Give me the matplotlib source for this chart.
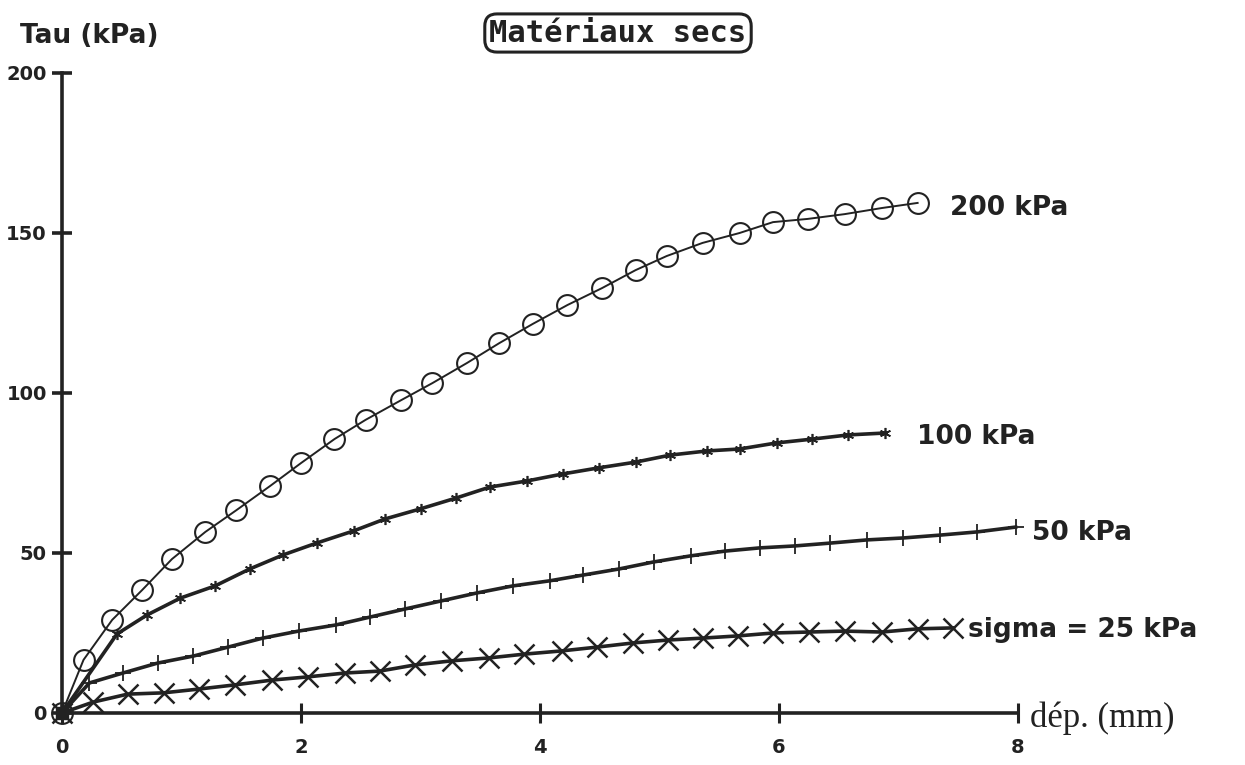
import matplotlib
matplotlib.use('Agg')
import matplotlib.pyplot as plt

dep_200 = [0, 0.18, 0.42, 0.67, 0.92, 1.20, 1.46, 1.74, 2.00, 2.28, 2.54, 2.84, 3.10,
           3.39, 3.66, 3.94, 4.23, 4.52, 4.80, 5.06, 5.36, 5.67, 5.95, 6.24, 6.55, 6.86, 7.16]
tau_200 = [0, 16.6, 29.1, 38.4, 48.1, 56.6, 63.4, 70.9, 78.1, 85.6, 91.6, 97.8, 103.1,
           109.4, 115.6, 121.6, 127.5, 132.8, 138.4, 142.8, 146.9, 150.0, 153.4, 154.4, 155.9, 157.8, 159.4]

dep_100 = [0, 0.46, 0.71, 0.99, 1.28, 1.57, 1.85, 2.13, 2.44, 2.70, 3.00, 3.30, 3.58,
           3.89, 4.19, 4.49, 4.80, 5.09, 5.40, 5.67, 5.98, 6.28, 6.58, 6.89]
tau_100 = [0, 24.7, 30.6, 35.9, 39.7, 45.0, 49.4, 53.1, 56.9, 60.6, 63.8, 67.2, 70.6,
           72.5, 74.7, 76.6, 78.4, 80.6, 81.9, 82.5, 84.4, 85.6, 86.9, 87.5]

dep_50 = [0, 0.23, 0.51, 0.80, 1.10, 1.39, 1.68, 1.98, 2.29, 2.58, 2.87, 3.17, 3.47, 3.77,
          4.08, 4.36, 4.66, 4.95, 5.26, 5.55, 5.84, 6.13, 6.43, 6.74, 7.04, 7.35, 7.66, 7.98]
tau_50 = [0, 9.4, 12.5, 15.6, 17.8, 20.6, 23.4, 25.6, 27.5, 30.0, 32.5, 35.0, 37.5, 39.7,
          41.3, 43.1, 45.0, 47.2, 49.1, 50.6, 51.6, 52.2, 53.1, 54.1, 54.7, 55.6, 56.6, 58.1]

dep_25 = [0, 0.26, 0.55, 0.85, 1.15, 1.45, 1.76, 2.06, 2.37, 2.66, 2.95, 3.26, 3.57, 3.87,
          4.18, 4.48, 4.78, 5.07, 5.36, 5.66, 5.95, 6.25, 6.55, 6.86, 7.16, 7.46]
tau_25 = [0, 3.4, 5.9, 6.3, 7.5, 8.8, 10.3, 11.3, 12.5, 13.1, 15.0, 16.3, 17.2, 18.4,
          19.4, 20.6, 21.9, 22.8, 23.4, 24.1, 25.0, 25.3, 25.6, 25.3, 26.3, 26.6]

x_ticks = [0, 2, 4, 6, 8]
y_ticks = [0, 50, 100, 150, 200]

ink = '#222222'
W, H = 1245, 765

fig = plt.figure(figsize=(12.45, 7.65), dpi=100)
ax = fig.add_axes([62 / W, 1 - 713 / H, (1018 - 62) / W, (713 - 73) / H])

ax.plot(dep_200, tau_200, color=ink, lw=1.4, marker='o', ms=15, mfc='none', mew=1.5, clip_on=False)
ax.plot(dep_100, tau_100, color=ink, lw=2.6, marker=(6, 2, 0), ms=8, mew=1.2, clip_on=False)
ax.plot(dep_50, tau_50, color=ink, lw=2.6, marker='+', ms=11, mew=1.3, clip_on=False)
ax.plot(dep_25, tau_25, color=ink, lw=2.6, marker='x', ms=15, mew=1.8, clip_on=False)
ax.plot([0], [0], color=ink, marker='s', ms=9, clip_on=False)  # blob at origin

ax.set_xlim(0, 8)
ax.set_ylim(0, 200)
ax.set_xticks(x_ticks)
ax.set_yticks(y_ticks)
for s in ['top', 'right']:
    ax.spines[s].set_visible(False)
for s in ['left', 'bottom']:
    ax.spines[s].set_linewidth(2.6)
    ax.spines[s].set_color(ink)
ax.tick_params(axis='y', direction='inout', length=14, width=2.6, color=ink, pad=4,
               labelsize=14, labelcolor=ink)
ax.tick_params(axis='x', direction='inout', length=14, width=2.2, color=ink, pad=11,
               labelsize=14, labelcolor=ink)
for lab in ax.get_xticklabels() + ax.get_yticklabels():
    lab.set_fontweight('bold')

fig.text(20 / W, 1 - 36 / H, 'Tau (kPa)', fontsize=19, fontweight='bold', color=ink, va='center')
fig.text(1030 / W, 1 - 718 / H, 'dép. (mm)', fontsize=25, family='Liberation Serif', color=ink, va='center')
fig.text(618 / W, 1 - 33 / H, 'Matériaux secs', fontsize=22, fontweight='bold', family='DejaVu Sans Mono',
         color=ink, ha='center', va='center',
         bbox=dict(boxstyle='round,pad=0.15,rounding_size=0.4', fc='white', ec=ink, lw=2.2))

fig.text(950 / W, 1 - 208 / H, '200 kPa', fontsize=19, fontweight='bold', color=ink, va='center')
fig.text(917 / W, 1 - 437 / H, '100 kPa', fontsize=19, fontweight='bold', color=ink, va='center')
fig.text(1032 / W, 1 - 533 / H, '50 kPa', fontsize=19, fontweight='bold', color=ink, va='center')
fig.text(968 / W, 1 - 630 / H, 'sigma = 25 kPa', fontsize=19, fontweight='bold', color=ink, va='center')

fig.savefig('out.png', dpi=100, facecolor='white')
